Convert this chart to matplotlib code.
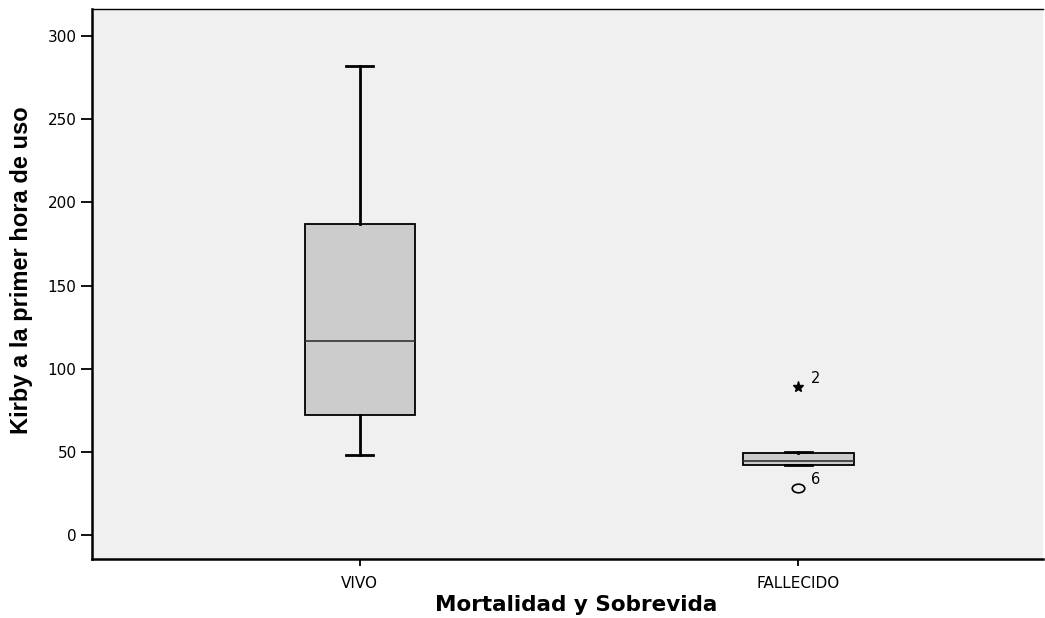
import matplotlib
matplotlib.use('Agg')
import matplotlib.pyplot as plt
from matplotlib.path import Path

# === Data ===
groups = ['VIVO', 'FALLECIDO']
whis_low = [48, 42]
q1 = [72, 42]
median = [116.7, 44.3]
q3 = [187, 49.5]
whis_high = [282, 49.7]

star_vals = [[], [89]]     # extreme outliers (*)
star_ids = [[], ['2']]
circ_vals = [[], [28]]     # outliers (o)
circ_ids = [[], ['6']]

BG = '#f0f0f0'
BOX = '#cccccc'

plt.rcParams['font.family'] = ['DejaVu Sans']

fig = plt.figure(figsize=(10.45, 6.18), dpi=100, facecolor='white')
ax = fig.add_axes([0.088, 0.0955, 0.910, 0.890])
ax.set_facecolor(BG)

stats = []
for i, g in enumerate(groups):
    stats.append(dict(label=g, whislo=whis_low[i], q1=q1[i], med=median[i],
                      q3=q3[i], whishi=whis_high[i], fliers=[]))

ax.bxp(stats, positions=[1, 2], widths=0.252, patch_artist=True,
       showfliers=False,
       boxprops=dict(facecolor=BOX, edgecolor='black', linewidth=1.3),
       medianprops=dict(color='#333333', linewidth=1.2),
       whiskerprops=dict(color='black', linewidth=2),
       capprops=dict(color='black', linewidth=2),
       capwidths=0.062)

# wide ellipse marker, like the stretched SPSS circle
circ = Path.unit_circle()
ellipse = Path(circ.vertices * [1.45, 1.0], circ.codes)

for i in range(len(groups)):
    pos = i + 1
    for v, lab in zip(star_vals[i], star_ids[i]):
        ax.plot(pos, v, marker='*', color='black', markersize=8,
                markerfacecolor='black', linestyle='none')
        ax.annotate(lab, (pos, v), xytext=(9, 3), textcoords='offset points',
                    fontsize=10.5)
    for v, lab in zip(circ_vals[i], circ_ids[i]):
        ax.plot(pos, v, marker=ellipse, color='black', markersize=9,
                markerfacecolor='none', markeredgewidth=1.2, linestyle='none')
        ax.annotate(lab, (pos, v), xytext=(9, 3), textcoords='offset points',
                    fontsize=10.5)

ax.set_xlim(0.389, 2.558)
ax.set_ylim(-14.4, 316.4)
ax.set_yticks([0, 50, 100, 150, 200, 250, 300])
ax.set_xticks([1, 2])
ax.set_xticklabels(groups)
ax.tick_params(axis='both', direction='out', width=1.3,
               labelsize=11, colors='black')
ax.tick_params(axis='y', length=8, pad=3)
ax.tick_params(axis='x', length=5, pad=7)

for s in ['left', 'bottom']:
    ax.spines[s].set_linewidth(1.8)
ax.spines['top'].set_linewidth(1.0)
ax.spines['right'].set_visible(False)

ax.set_xlabel('Mortalidad y Sobrevida', fontsize=15.5, fontweight='bold')
ax.xaxis.set_label_coords(0.509, -0.066)
ax.set_ylabel('Kirby a la primer hora de uso', fontsize=17, fontweight='bold',
              family=['Liberation Sans', 'DejaVu Sans'])
ax.yaxis.set_label_coords(-0.062, 0.525)

fig.savefig('out.png', dpi=100, facecolor='white')
